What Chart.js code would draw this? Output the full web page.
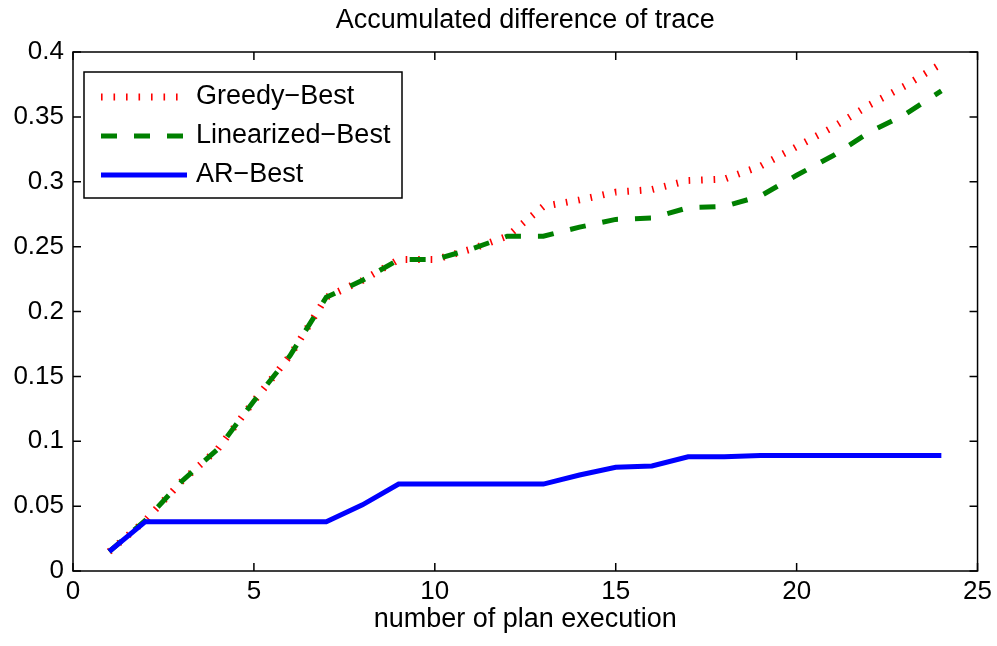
<!DOCTYPE html>
<html>
<head>
<meta charset="utf-8">
<script src="https://cdn.jsdelivr.net/npm/chart.js@4"></script>
<style>
  html, body { margin: 0; padding: 0; background: #fff; }
  #wrap { width: 997px; height: 646px; }
</style>
</head>
<body>
<div id="wrap"><canvas id="traceChart" width="997" height="646"></canvas></div>
<script>
// ── data ────────────────────────────────
const runs = [1, 2, 3, 4, 5, 6, 7, 8, 9, 10, 11, 12, 13, 14, 15, 16, 17, 18, 19, 20, 21, 22, 23, 24];
const greedyBest = [0.015, 0.039, 0.069, 0.094, 0.131, 0.166, 0.211, 0.224, 0.240, 0.240, 0.248, 0.258,
                    0.281, 0.286, 0.292, 0.294, 0.301, 0.302, 0.312, 0.327, 0.342, 0.359, 0.374, 0.391];
const linearizedBest = [0.015, 0.039, 0.069, 0.094, 0.131, 0.166, 0.211, 0.224, 0.240, 0.240, 0.248, 0.258,
                        0.258, 0.265, 0.271, 0.272, 0.280, 0.281, 0.289, 0.305, 0.320, 0.338, 0.352, 0.370];
const arBest = [0.015, 0.038, 0.038, 0.038, 0.038, 0.038, 0.038, 0.051, 0.067, 0.067, 0.067, 0.067,
                0.067, 0.074, 0.080, 0.081, 0.088, 0.088, 0.089, 0.089, 0.089, 0.089, 0.089, 0.089];
const xTicks = [0, 5, 10, 15, 20, 25];
const yTicks = [0, 0.05, 0.1, 0.15, 0.2, 0.25, 0.3, 0.35, 0.4];
const chartTitle = "Accumulated difference of trace";

const FONT = "'Liberation Sans', Arial, Helvetica, sans-serif";
const toPoints = (vals) => vals.map((v, i) => ({ x: runs[i], y: v }));

// Matlab-style box with inward ticks on all four sides, title over the axes, legend inside
const matlabFrame = {
  id: "matlabFrame",
  afterDraw(chart) {
    const { ctx, chartArea: a, scales } = chart;
    const tl = 8;
    ctx.save();
    ctx.strokeStyle = "#000";
    ctx.lineWidth = 1.5;
    ctx.strokeRect(a.left, a.top, a.right - a.left, a.bottom - a.top);
    ctx.beginPath();
    xTicks.forEach((v) => {
      const px = scales.x.getPixelForValue(v);
      ctx.moveTo(px, a.bottom); ctx.lineTo(px, a.bottom - tl);
      ctx.moveTo(px, a.top); ctx.lineTo(px, a.top + tl);
    });
    yTicks.forEach((v) => {
      const py = scales.y.getPixelForValue(v);
      ctx.moveTo(a.left, py); ctx.lineTo(a.left + tl, py);
      ctx.moveTo(a.right, py); ctx.lineTo(a.right - tl, py);
    });
    ctx.stroke();

    // title, centred over the plot box
    ctx.fillStyle = "#000";
    ctx.font = "27px " + FONT;
    ctx.textAlign = "center";
    ctx.textBaseline = "middle";
    ctx.fillText(chartTitle, (a.left + a.right) / 2, 21);

    // legend box
    const bx = a.left + 11, by = a.top + 20, bw = 318, bh = 126;
    ctx.fillStyle = "#fff";
    ctx.fillRect(bx, by, bw, bh);
    ctx.strokeRect(bx, by, bw, bh);
    chart.data.datasets.forEach((ds, row) => {
      const y = by + 25 + row * 39;
      ctx.save();
      ctx.beginPath();
      ctx.strokeStyle = ds.borderColor;
      ctx.lineWidth = ds.borderWidth;
      ctx.lineCap = "butt";
      ctx.setLineDash(ds.borderDash || []);
      ctx.moveTo(bx + 17, y);
      ctx.lineTo(bx + 103, y);
      ctx.stroke();
      ctx.restore();
      ctx.fillStyle = "#000";
      ctx.font = "27px " + FONT;
      ctx.textBaseline = "middle";
      ctx.textAlign = "left";
      ctx.fillText(ds.label, bx + 112, y);
    });
    ctx.restore();
  },
};

new Chart(document.getElementById("traceChart"), {
  type: "line",
  data: {
    datasets: [
      {
        label: "Greedy\u2212Best",
        data: toPoints(greedyBest),
        borderColor: "#ff0000",
        borderWidth: 7,
        borderDash: [1.6, 10.9],
        order: 3,
      },
      {
        label: "Linearized\u2212Best",
        data: toPoints(linearizedBest),
        borderColor: "#008000",
        borderWidth: 5,
        borderDash: [16, 17],
        order: 2,
      },
      {
        label: "AR\u2212Best",
        data: toPoints(arBest),
        borderColor: "#0000ff",
        borderWidth: 5,
        order: 1,
      },
    ],
  },
  options: {
    responsive: false,
    animation: false,
    devicePixelRatio: 1,
    layout: { padding: { top: 52, right: 19, bottom: 0, left: 0 } },
    elements: {
      line: { tension: 0, fill: false, borderCapStyle: "butt", borderJoinStyle: "miter" },
      point: { radius: 0, hoverRadius: 0 },
    },
    plugins: {
      legend: { display: false },
      tooltip: { enabled: false },
      title: { display: false },
    },
    scales: {
      x: {
        type: "linear",
        min: 0,
        max: 25,
        afterBuildTicks: (s) => { s.ticks = xTicks.map((v) => ({ value: v })); },
        afterFit: (s) => { s.height = 75; },
        grid: { display: false, drawTicks: false },
        border: { display: false },
        ticks: { color: "#000", padding: 5, font: { family: FONT, size: 26 } },
        title: {
          display: true,
          text: "number of plan execution",
          color: "#000",
          font: { family: FONT, size: 27 },
          padding: { top: 0, bottom: 10 },
        },
      },
      y: {
        min: 0,
        max: 0.4,
        afterBuildTicks: (s) => { s.ticks = yTicks.map((v) => ({ value: v })); },
        afterFit: (s) => { s.width = 73; },
        grid: { display: false, drawTicks: false },
        border: { display: false },
        ticks: {
          color: "#000",
          padding: 9,
          font: { family: FONT, size: 26 },
          callback: (v) => String(+v.toFixed(2)),
        },
      },
    },
  },
  plugins: [matlabFrame],
});
</script>
</body>
</html>
